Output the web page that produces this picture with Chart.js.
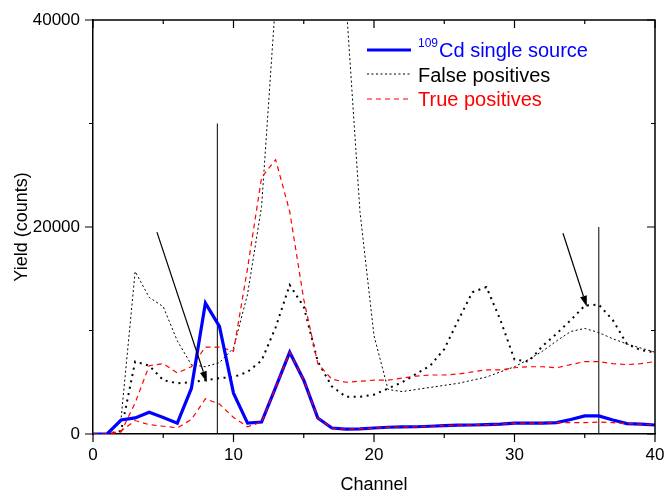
<!DOCTYPE html>
<html>
<head>
<meta charset="utf-8">
<script src="https://cdn.jsdelivr.net/npm/chart.js@4.4.1/dist/chart.umd.min.js"></script>
<style>
  html, body { margin: 0; padding: 0; background: #fff; }
  #wrap { width: 666px; height: 496px; }
</style>
</head>
<body>
<div id="wrap"><canvas id="myChart" width="666" height="496"></canvas></div>
<script>
const canales = [0,1,2,3,4,5,6,7,8,9,10,11,12,13,14,15,16,17,18,19,20,
  21,22,23,24,25,26,27,28,29,30,31,32,33,34,35,36,37,38,39,40];

// 109Cd single source (blue)
const cdSingle = [0,0,1350,1550,2100,1600,1050,4400,12650,10400,3950,1050,1150,4500,7900,5200,1550,580,480,500,580,
  650,680,700,750,800,850,870,900,950,1050,1050,1050,1100,1400,1750,1750,1350,1000,950,870];

// true positives, low curve (follows the blue one)
const trueLow = [0,0,300,1300,900,750,600,1400,3400,2900,1600,700,1150,4500,7900,5200,1550,580,480,500,580,
  650,680,700,750,800,850,870,900,950,1050,1050,1050,1100,1100,1100,1150,1100,1000,950,870];

// true positives, high curve
const trueHigh = [0,0,200,3000,6600,6800,5900,6500,8400,8400,8000,16000,24800,26500,21500,13000,6800,5300,5000,5100,5200,
  5200,5400,5600,5700,5700,5800,6000,6200,6200,6400,6500,6500,6400,6700,7000,7000,6800,6700,6800,7000];

// false positives, fine dots (runs off the top between 13 and 18)
const falseHigh = [0,0,1500,15700,13200,12300,9000,6700,6500,6900,8300,13500,22000,42000,60000,62000,60000,52000,42000,21500,9500,
  4300,4100,4300,4500,4700,4900,5200,5500,6000,6500,7200,8000,9000,9900,10200,9800,9200,8700,8300,7900];

// false positives, heavy dots
const falseLow = [0,0,300,7000,6600,5200,4900,5000,5200,5400,5500,6000,7100,10300,14400,12300,7000,4600,3600,3600,3800,
  4400,5000,5800,6600,8200,11000,13700,14200,11000,7200,7000,8500,9700,11000,12400,12500,11000,8700,8100,7900];

// marker lines and arrows, in data units
const lineasX = [8.85, 36];
const lineasTope = [30000, 20000];
const flechas = [
  [4.55, 19500, 8.1, 5000],
  [33.45, 19400, 35.15, 12300]
];

const ticksX = [0,10,20,30,40];
const ticksY = [0,20000,40000];

const fuente = "'Liberation Sans', Arial, sans-serif";

function puntos(serie) {
  return canales.map((c, i) => ({ x: c, y: serie[i] }));
}

const datasets = [
  { label: "trueLow", data: puntos(trueLow), borderColor: "#ff0000", borderWidth: 1.2, borderDash: [5, 4], order: 0 },
  { label: "cd", data: puntos(cdSingle), borderColor: "#0000ff", borderWidth: 3.2, order: 1 },
  { label: "trueHigh", data: puntos(trueHigh), borderColor: "#ff0000", borderWidth: 1.2, borderDash: [5, 4], order: 2 },
  { label: "falseLow", data: puntos(falseLow), borderColor: "#000000", borderWidth: 2, borderDash: [2, 4.5], order: 3 },
  { label: "falseHigh", data: puntos(falseHigh), borderColor: "#000000", borderWidth: 1, borderDash: [2, 2.5], order: 4 }
];
lineasX.forEach((lx, i) => {
  datasets.push({ label: "marca" + i, data: [{ x: lx, y: 0 }, { x: lx, y: lineasTope[i] }],
    borderColor: "#000000", borderWidth: 1, order: 5 });
});
datasets.forEach(d => { d.pointRadius = 0; d.tension = 0; d.fill = false; });

const marco = {
  id: "marco",
  afterDraw(chart) {
    const c = chart.ctx;
    const a = chart.chartArea;
    const sx = chart.scales.x, sy = chart.scales.y;
    c.save();
    c.strokeStyle = "#000";
    c.lineWidth = 1.5;
    c.beginPath();
    c.moveTo(a.left, a.top); c.lineTo(a.right, a.top); c.lineTo(a.right, a.bottom);
    c.stroke();
    c.lineWidth = 1.2;
    c.beginPath();
    for (let v = 0; v <= 40; v += 5) {
      const px = sx.getPixelForValue(v);
      const l = v % 10 === 0 ? 8 : 4;
      c.moveTo(px, a.bottom); c.lineTo(px, a.bottom + l);
      c.moveTo(px, a.top); c.lineTo(px, a.top + l);
    }
    for (let v = 0; v <= 40000; v += 10000) {
      const py = sy.getPixelForValue(v);
      const l = v % 20000 === 0 ? 8 : 4;
      c.moveTo(a.left - l, py); c.lineTo(a.left, py);
      c.moveTo(a.right, py); c.lineTo(a.right - l, py);
    }
    c.stroke();
    c.restore();
  },
  afterDatasetsDraw(chart) {
    const c = chart.ctx;
    const sx = chart.scales.x, sy = chart.scales.y;
    c.save();
    // arrows
    flechas.forEach(f => {
      const x1 = sx.getPixelForValue(f[0]), y1 = sy.getPixelForValue(f[1]);
      const x2 = sx.getPixelForValue(f[2]), y2 = sy.getPixelForValue(f[3]);
      const ang = Math.atan2(y2 - y1, x2 - x1);
      const largo = 11, ancho = 3.5;
      c.strokeStyle = "#000"; c.fillStyle = "#000"; c.lineWidth = 1.2;
      c.beginPath();
      c.moveTo(x1, y1);
      c.lineTo(x2 - largo * Math.cos(ang), y2 - largo * Math.sin(ang));
      c.stroke();
      c.beginPath();
      c.moveTo(x2, y2);
      c.lineTo(x2 - largo * Math.cos(ang) + ancho * Math.sin(ang), y2 - largo * Math.sin(ang) - ancho * Math.cos(ang));
      c.lineTo(x2 - largo * Math.cos(ang) - ancho * Math.sin(ang), y2 - largo * Math.sin(ang) + ancho * Math.cos(ang));
      c.closePath();
      c.fill();
    });

    // legend
    const lx1 = 367, lx2 = 411, tx = 418;
    const filas = [
      { y: 50, base: 57, color: "#0000ff", ancho: 3.2, dash: [], texto: "Cd single source", sup: "109" },
      { y: 74, base: 82, color: "#000000", ancho: 1, dash: [2, 2.5], texto: "False positives", colorTexto: "#000" },
      { y: 99, base: 106, color: "#ff0000", ancho: 1.2, dash: [5, 4], texto: "True positives" }
    ];
    filas.forEach(r => {
      c.strokeStyle = r.color;
      c.lineWidth = r.ancho;
      c.setLineDash(r.dash);
      c.beginPath();
      c.moveTo(lx1, r.y); c.lineTo(lx2, r.y);
      c.stroke();
      c.setLineDash([]);
      c.fillStyle = r.colorTexto || r.color;
      c.textBaseline = "alphabetic";
      c.textAlign = "left";
      let x = tx;
      if (r.sup) {
        c.font = "12px " + fuente;
        c.fillText(r.sup, x, r.base - 10);
        x += c.measureText(r.sup).width + 1;
      }
      c.font = "20px " + fuente;
      c.fillText(r.texto, x, r.base);
    });
    c.restore();
  }
};

const ctx = document.getElementById("myChart");
const myChart = new Chart(ctx, {
  type: "line",
  data: { datasets: datasets },
  options: {
    responsive: false,
    animation: false,
    events: [],
    layout: { padding: { left: 0, right: 11, top: 20, bottom: 0 } },
    plugins: { legend: { display: false }, tooltip: { enabled: false } },
    scales: {
      x: {
        type: "linear",
        min: 0,
        max: 40,
        afterFit: s => { s.height = 62; s.paddingLeft = 0; s.paddingRight = 0; },
        afterBuildTicks: s => { s.ticks = ticksX.map(v => ({ value: v })); },
        ticks: { color: "#000", font: { family: fuente, size: 17 }, padding: 3, maxRotation: 0,
          callback: v => String(v) },
        grid: { display: true, drawOnChartArea: false, drawTicks: true, tickLength: 8, tickColor: "rgba(0,0,0,0)" },
        border: { display: true, color: "#000", width: 1.5 },
        title: { display: true, text: "Channel", color: "#000", font: { family: fuente, size: 18 },
          padding: { top: 0, bottom: 0 } }
      },
      y: {
        type: "linear",
        min: 0,
        max: 40000,
        afterFit: s => { s.width = 93; s.paddingTop = 0; s.paddingBottom = 0; },
        afterBuildTicks: s => { s.ticks = ticksY.map(v => ({ value: v })); },
        ticks: { color: "#000", font: { family: fuente, size: 17 }, padding: 5,
          callback: v => String(v) },
        grid: { display: true, drawOnChartArea: false, drawTicks: true, tickLength: 8, tickColor: "rgba(0,0,0,0)" },
        border: { display: true, color: "#000", width: 1.5 },
        title: { display: true, text: "Yield (counts)", color: "#000", font: { family: fuente, size: 18 },
          padding: { top: 11, bottom: 0 } }
      }
    }
  },
  plugins: [marco]
});
</script>
</body>
</html>
